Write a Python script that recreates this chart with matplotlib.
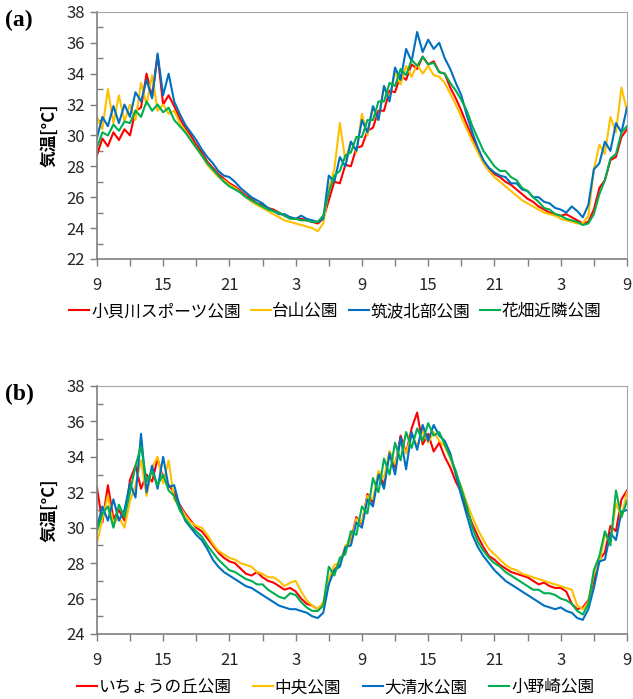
#!/usr/bin/env python3
"""Two-panel air temperature plot for park sites (48 h, 30-min readings)."""
import os

os.environ.setdefault("MPLBACKEND", "Agg")
import matplotlib.pyplot as plt
import numpy as np
from matplotlib.ticker import FixedLocator, MultipleLocator

plt.rcParams["font.family"] = ["Noto Sans CJK JP", "DejaVu Sans"]

# hours since 9:00 on day 1, every 30 minutes
HOURS = np.arange(0, 48.5, 0.5)
TICK_HOURS = [0, 6, 12, 18, 24, 30, 36, 42, 48]
TICK_LABELS = ["9", "15", "21", "3", "9", "15", "21", "3", "9"]

NAMES_A = ["小貝川スポーツ公園", "台山公園", "筑波北部公園", "花畑近隣公園"]
RED_A = [28.7, 29.8, 29.3, 30.2, 29.7, 30.4, 30.0, 31.6, 31.8, 34.0, 32.5, 35.2,
         32.0, 32.6, 31.9, 31.1, 30.5, 30.0, 29.4, 28.9, 28.3, 27.9, 27.5, 27.2,
         26.9, 26.7, 26.4, 26.1, 25.9, 25.6, 25.5, 25.3, 25.2, 25.0, 24.8, 24.7,
         24.6, 24.6, 24.5, 24.4, 24.3, 24.6, 25.8, 27.0, 26.9, 28.1, 28.0, 29.2,
         29.3, 30.3, 30.5, 31.6, 31.6, 32.9, 32.8, 33.9, 33.6, 34.6, 34.3, 35.1,
         34.6, 34.8, 34.1, 34.0, 33.1, 32.4, 31.6, 30.7, 29.9, 29.1, 28.3, 27.8,
         27.5, 27.3, 27.0, 26.8, 26.5, 26.2, 25.9, 25.7, 25.4, 25.2, 25.0, 24.9,
         24.8, 24.9, 24.7, 24.5, 24.3, 24.4, 25.2, 26.6, 27.1, 28.4, 28.6, 29.9,
         30.4]
YELLOW_A = [31.2, 30.4, 33.0, 30.8, 32.6, 30.9, 32.0, 31.0, 33.4, 32.0, 33.9, 31.6,
            32.0, 31.4, 31.6, 30.8, 30.3, 29.7, 29.2, 28.7, 28.1, 27.7, 27.3, 27.1,
            26.8, 26.6, 26.3, 26.0, 25.7, 25.5, 25.3, 25.1, 24.9, 24.7, 24.5, 24.4,
            24.3, 24.2, 24.1, 24.0, 23.8, 24.3, 26.6, 27.8, 30.8, 28.4, 29.6, 28.9,
            31.4, 30.0, 31.8, 31.0, 33.2, 32.4, 34.1, 33.3, 34.5, 33.8, 34.6, 34.0,
            34.5, 33.9, 33.8, 33.4, 32.7, 32.0, 31.2, 30.4, 29.6, 28.9, 28.2, 27.7,
            27.3, 27.0, 26.7, 26.4, 26.1, 25.8, 25.6, 25.4, 25.2, 25.0, 24.9, 24.8,
            24.6, 24.5, 24.4, 24.3, 24.3, 24.8, 27.8, 29.4, 28.8, 31.2, 30.2, 33.1,
            31.6]
BLUE_A = [29.8, 31.2, 30.6, 31.9, 30.8, 32.0, 31.2, 32.8, 32.2, 33.6, 32.4, 35.3,
          32.6, 34.0, 32.2, 31.4, 30.7, 30.2, 29.7, 29.1, 28.6, 28.2, 27.7, 27.4,
          27.3, 27.0, 26.6, 26.3, 26.0, 25.8, 25.6, 25.3, 25.1, 24.9, 24.9, 24.7,
          24.6, 24.8, 24.6, 24.5, 24.4, 24.6, 27.4, 27.0, 28.6, 28.0, 29.6, 29.0,
          31.0, 30.2, 31.9, 31.0, 33.2, 32.2, 34.4, 33.6, 35.6, 34.8, 36.7, 35.4,
          36.2, 35.6, 36.0, 35.0, 34.3, 33.4, 32.6, 31.3, 30.2, 29.2, 28.4, 27.9,
          27.6, 27.4, 27.3, 26.9, 26.9, 26.5, 26.4, 26.0, 26.0, 25.7, 25.6, 25.3,
          25.2, 25.0, 25.4, 25.1, 24.7, 25.5, 27.8, 28.2, 29.6, 29.0, 30.8, 30.2,
          31.8]
GREEN_A = [29.2, 30.2, 30.0, 30.7, 30.3, 30.9, 30.8, 31.6, 31.2, 32.2, 31.6, 32.0,
           31.5, 31.8, 31.0, 30.6, 30.2, 29.7, 29.2, 28.7, 28.2, 27.8, 27.4, 27.0,
           26.7, 26.5, 26.3, 26.0, 25.8, 25.6, 25.4, 25.2, 25.1, 25.0, 24.8, 24.6,
           24.6, 24.5, 24.5, 24.4, 24.4, 24.8, 26.3, 27.4, 27.7, 28.7, 28.9, 29.9,
           29.9, 31.0, 31.0, 32.2, 32.2, 33.4, 33.2, 34.3, 33.9, 34.9, 34.5, 35.1,
           34.6, 34.7, 34.1, 34.0, 33.4, 32.9, 32.3, 31.6, 30.6, 29.8, 29.0, 28.5,
           28.0, 27.7, 27.7, 27.3, 27.1, 26.6, 26.4, 26.0, 25.7, 25.3, 25.2, 24.9,
           24.8, 24.6, 24.5, 24.4, 24.2, 24.3, 24.9, 26.2, 27.1, 28.5, 28.8, 30.2,
           30.6]

NAMES_B = ["いちょうの丘公園", "中央公園", "大清水公園", "小野崎公園"]
RED_B = [32.3, 30.3, 32.4, 30.5, 31.0, 30.4, 32.7, 33.5, 32.2, 33.0, 32.6, 33.9,
         32.8, 32.4, 32.0, 31.3, 30.8, 30.4, 30.0, 29.8, 29.4, 29.0, 28.6, 28.3,
         28.1, 28.0, 27.7, 27.4, 27.3, 27.5, 27.2, 27.0, 26.9, 26.7, 26.5, 26.6,
         26.4, 26.0, 25.7, 25.6, 25.4, 25.7, 27.0, 27.6, 28.0, 28.8, 29.3, 30.6,
         30.2, 31.9, 31.4, 33.1, 32.4, 34.3, 33.4, 35.2, 34.2, 35.6, 36.5, 34.7,
         35.3, 34.3, 34.8, 34.0, 33.4, 32.6, 32.0, 31.0, 30.2, 29.5, 28.9, 28.4,
         28.2, 27.9, 27.7, 27.5, 27.4, 27.3, 27.2, 27.0, 26.8, 26.9, 26.7, 26.6,
         26.6, 26.4, 25.7, 25.4, 25.5, 25.9, 27.0, 28.2, 28.6, 30.1, 29.8, 31.6,
         32.1]
YELLOW_B = [29.1, 30.5, 31.8, 30.2, 30.6, 30.0, 31.5, 32.4, 33.8, 31.8, 33.4, 34.0,
            32.5, 33.8, 31.6, 31.2, 30.7, 30.3, 30.1, 30.0, 29.6, 29.1, 28.7, 28.5,
            28.3, 28.2, 28.0, 27.9, 27.8, 27.5, 27.4, 27.2, 27.2, 27.0, 26.7, 26.9,
            27.0, 26.4, 25.9, 25.6, 25.4, 25.8, 27.1, 27.9, 28.0, 29.0, 29.2, 30.5,
            30.3, 31.8, 31.6, 33.2, 32.8, 34.3, 33.6, 34.9, 34.2, 35.3, 34.6, 35.5,
            34.8, 35.4, 34.9, 34.6, 33.9, 33.0, 32.3, 31.4, 30.6, 29.9, 29.3, 28.8,
            28.5, 28.2, 27.9, 27.7, 27.6, 27.4, 27.3, 27.2, 27.1, 27.0, 26.9, 26.8,
            26.7, 26.6, 26.5, 25.6, 25.4, 25.8, 27.4, 28.0, 29.6, 29.2, 31.4, 30.6,
            32.0]
BLUE_B = [30.0, 31.2, 30.4, 31.6, 30.4, 31.0, 32.5, 31.7, 35.3, 32.0, 33.5, 32.2,
          34.0, 32.3, 32.4, 31.2, 30.4, 30.0, 29.6, 29.3, 28.8, 28.2, 27.8, 27.5,
          27.3, 27.1, 26.9, 26.7, 26.6, 26.4, 26.2, 26.0, 25.8, 25.6, 25.5, 25.4,
          25.4, 25.3, 25.2, 25.0, 24.9, 25.2, 26.8, 27.6, 27.8, 28.9, 29.0, 30.3,
          30.0, 31.6, 31.2, 33.0, 32.2, 34.2, 33.0, 35.1, 33.3, 35.4, 34.4, 35.8,
          34.9, 35.8, 35.2, 34.9, 34.2, 33.0, 31.8, 30.7, 29.6, 28.9, 28.4, 28.0,
          27.6, 27.3, 27.0, 26.8, 26.6, 26.4, 26.2, 26.0, 25.8, 25.6, 25.5, 25.4,
          25.5, 25.3, 25.2, 24.9, 24.8, 25.4, 26.6, 28.1, 28.2, 29.7, 29.3, 30.9,
          31.0]
GREEN_B = [29.8, 30.8, 31.2, 30.0, 31.3, 30.6, 32.0, 33.5, 34.6, 32.6, 33.2, 32.4,
           33.0, 32.1, 31.8, 31.0, 30.5, 30.1, 29.8, 29.5, 29.0, 28.6, 28.2, 27.9,
           27.6, 27.5, 27.3, 27.1, 27.0, 26.8, 26.8, 26.5, 26.3, 26.1, 26.0, 26.3,
           26.2, 25.8, 25.5, 25.3, 25.3, 25.6, 27.8, 27.3, 28.3, 28.5, 29.8, 29.6,
           31.2, 30.8, 32.8, 32.0, 33.9, 33.0, 34.8, 33.8, 35.4, 34.5, 35.6, 34.9,
           35.9, 35.2, 35.4, 34.7, 34.0, 33.2, 32.2, 31.2, 30.0, 29.2, 28.7, 28.3,
           28.0, 27.8, 27.5, 27.3, 27.1, 26.9, 26.7, 26.5, 26.5, 26.3, 26.3, 26.2,
           26.0, 25.9, 25.7, 25.3, 25.1, 25.7, 27.6, 28.4, 29.8, 29.0, 32.1, 30.6,
           31.5]

COLORS = ["#ff0000", "#ffc000", "#0070c0", "#00b050"]


def panel(fig, rect, series, names, ylim, tag, legend_y, colspace):
    ax = fig.add_axes(rect)
    for values, name, color in zip(series, names, COLORS):
        ax.plot(HOURS, values, color=color, lw=1.5, label=name)
    ax.set_xlim(0, 48)
    ax.set_ylim(*ylim)
    ax.xaxis.set_major_locator(FixedLocator(TICK_HOURS))
    ax.set_xticklabels(TICK_LABELS)
    ax.xaxis.set_minor_locator(MultipleLocator(3))
    ax.yaxis.set_major_locator(MultipleLocator(2))
    ax.yaxis.set_minor_locator(MultipleLocator(1))
    ax.tick_params(axis="both", which="major", labelsize=12, colors="#7f7f7f",
                   labelcolor="#262626", length=5, width=1)
    ax.tick_params(axis="x", which="minor", direction="out", length=5, width=1, colors="#7f7f7f")
    ax.tick_params(axis="y", which="minor", direction="in", length=4, width=1, colors="#7f7f7f")
    ax.tick_params(axis="x", pad=8)
    for side in ("top", "right"):
        ax.spines[side].set_color("#a6a6a6")
    for side in ("left", "bottom"):
        ax.spines[side].set_color("#7f7f7f")
        ax.spines[side].set_linewidth(1.2)
    ax.set_ylabel("気温[°C]", fontsize=12, fontweight="bold", labelpad=6)
    fig.text(0.008, rect[1] + rect[3] - 0.012, tag, fontsize=17, fontweight="bold",
             family="Liberation Serif", va="center")
    ax.legend(loc="center", bbox_to_anchor=(0.53, legend_y), bbox_transform=fig.transFigure,
              ncol=4, frameon=False, fontsize=12, handlelength=1.2, handletextpad=0.1,
              columnspacing=colspace, borderaxespad=0)
    return ax


fig = plt.figure(figsize=(6.33, 6.99), dpi=100)
panel(fig, [0.153, 0.6295, 0.8375, 0.3535], [RED_A, YELLOW_A, BLUE_A, GREEN_A],
      NAMES_A, (22, 38), "(a)", 0.554, 0.6)
panel(fig, [0.153, 0.093, 0.8375, 0.3548], [RED_B, YELLOW_B, BLUE_B, GREEN_B],
      NAMES_B, (24, 38), "(b)", 0.016, 1.3)
fig.savefig("out.png", dpi=100)
